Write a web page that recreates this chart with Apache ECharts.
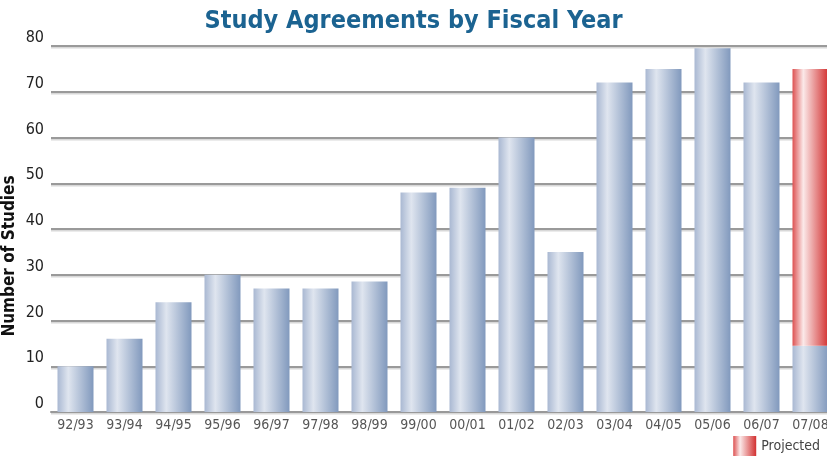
<!DOCTYPE html>
<html>
<head>
<meta charset="utf-8">
<script src="https://cdn.jsdelivr.net/npm/echarts@6/dist/echarts.min.js"></script>
<style>
  html, body { margin: 0; padding: 0; background: #fff; }
  #chart { width: 827px; height: 463px; }
</style>
</head>
<body>
<div id="chart"></div>
<script>
"use strict";
var years = ['92/93','93/94','94/95','95/96','96/97','97/98','98/99','99/00','00/01','01/02','02/03','03/04','04/05','05/06','06/07','07/08'];
// studies completed (07/08 is year-to-date)
var actual = [10, 16, 24, 30, 27, 27, 28.5, 48, 49, 60, 35, 72, 75, 79.5, 72, 14.5];
// projected remainder for 07/08, stacked on top
var projected = ['-', '-', '-', '-', '-', '-', '-', '-', '-', '-', '-', '-', '-', '-', '-', 60.5];
var yTicks = [0, 10, 20, 30, 40, 50, 60, 70, 80];

var font = "'Liberation Sans Narrow', 'DejaVu Sans Condensed', sans-serif";

function barGrad(c1, c2, c3) {
    return new echarts.graphic.LinearGradient(0, 0, 1, 0, [
        { offset: 0, color: c1 },
        { offset: 0.3, color: c2 },
        { offset: 1, color: c3 }
    ]);
}

var chart = echarts.init(document.getElementById('chart'));
var option = {
    animation: false,
    title: {
        text: 'Study Agreements by Fiscal Year',
        left: 'center',
        top: 4,
        textStyle: { fontFamily: font, fontSize: 25, fontWeight: 'bold', color: '#1b6391' }
    },
    legend: {
        data: ['Projected'],
        icon: 'rect',
        right: 2,
        bottom: 2,
        itemWidth: 23,
        itemHeight: 20,
        itemGap: 6,
        textStyle: { fontFamily: font, fontSize: 14, color: '#444' }
    },
    // y axis title, placed lower than the plot centre like the original
    graphic: [{
        type: 'text',
        x: 10,
        y: 256,
        rotation: Math.PI / 2,
        style: {
            text: 'Number of Studies',
            font: 'bold 17px ' + font,
            fill: '#111',
            align: 'center',
            verticalAlign: 'middle'
        }
    }],
    grid: { left: 51, right: -8, top: 46, bottom: 51, outerBoundsMode: 'none' },
    xAxis: {
        type: 'category',
        data: years,
        axisTick: { show: false },
        axisLine: { lineStyle: { color: '#999', width: 2 } },
        axisLabel: { fontFamily: font, fontSize: 14, color: '#555', margin: 6 }
    },
    yAxis: {
        type: 'value',
        min: yTicks[0],
        max: yTicks[yTicks.length - 1],
        interval: 10,
        axisLabel: { fontFamily: font, fontSize: 16, color: '#222', verticalAlign: 'bottom', margin: 7 },
        axisLine: { show: false },
        axisTick: { show: false },
        splitLine: { lineStyle: { color: '#9a9a9a', width: 2, shadowColor: '#d8d8d8', shadowOffsetY: 1.5 } }
    },
    series: [
        {
            name: 'Actual',
            type: 'bar',
            stack: 'total',
            data: actual,
            barWidth: 36,
            itemStyle: { color: barGrad('#a9b8d2', '#dfe5ef', '#8199bd') }
        },
        {
            name: 'Projected',
            type: 'bar',
            stack: 'total',
            data: projected,
            barWidth: 36,
            itemStyle: { color: barGrad('#dd5252', '#fbe9e9', '#d23030') }
        }
    ]
};
chart.setOption(option);
</script>
</body>
</html>
